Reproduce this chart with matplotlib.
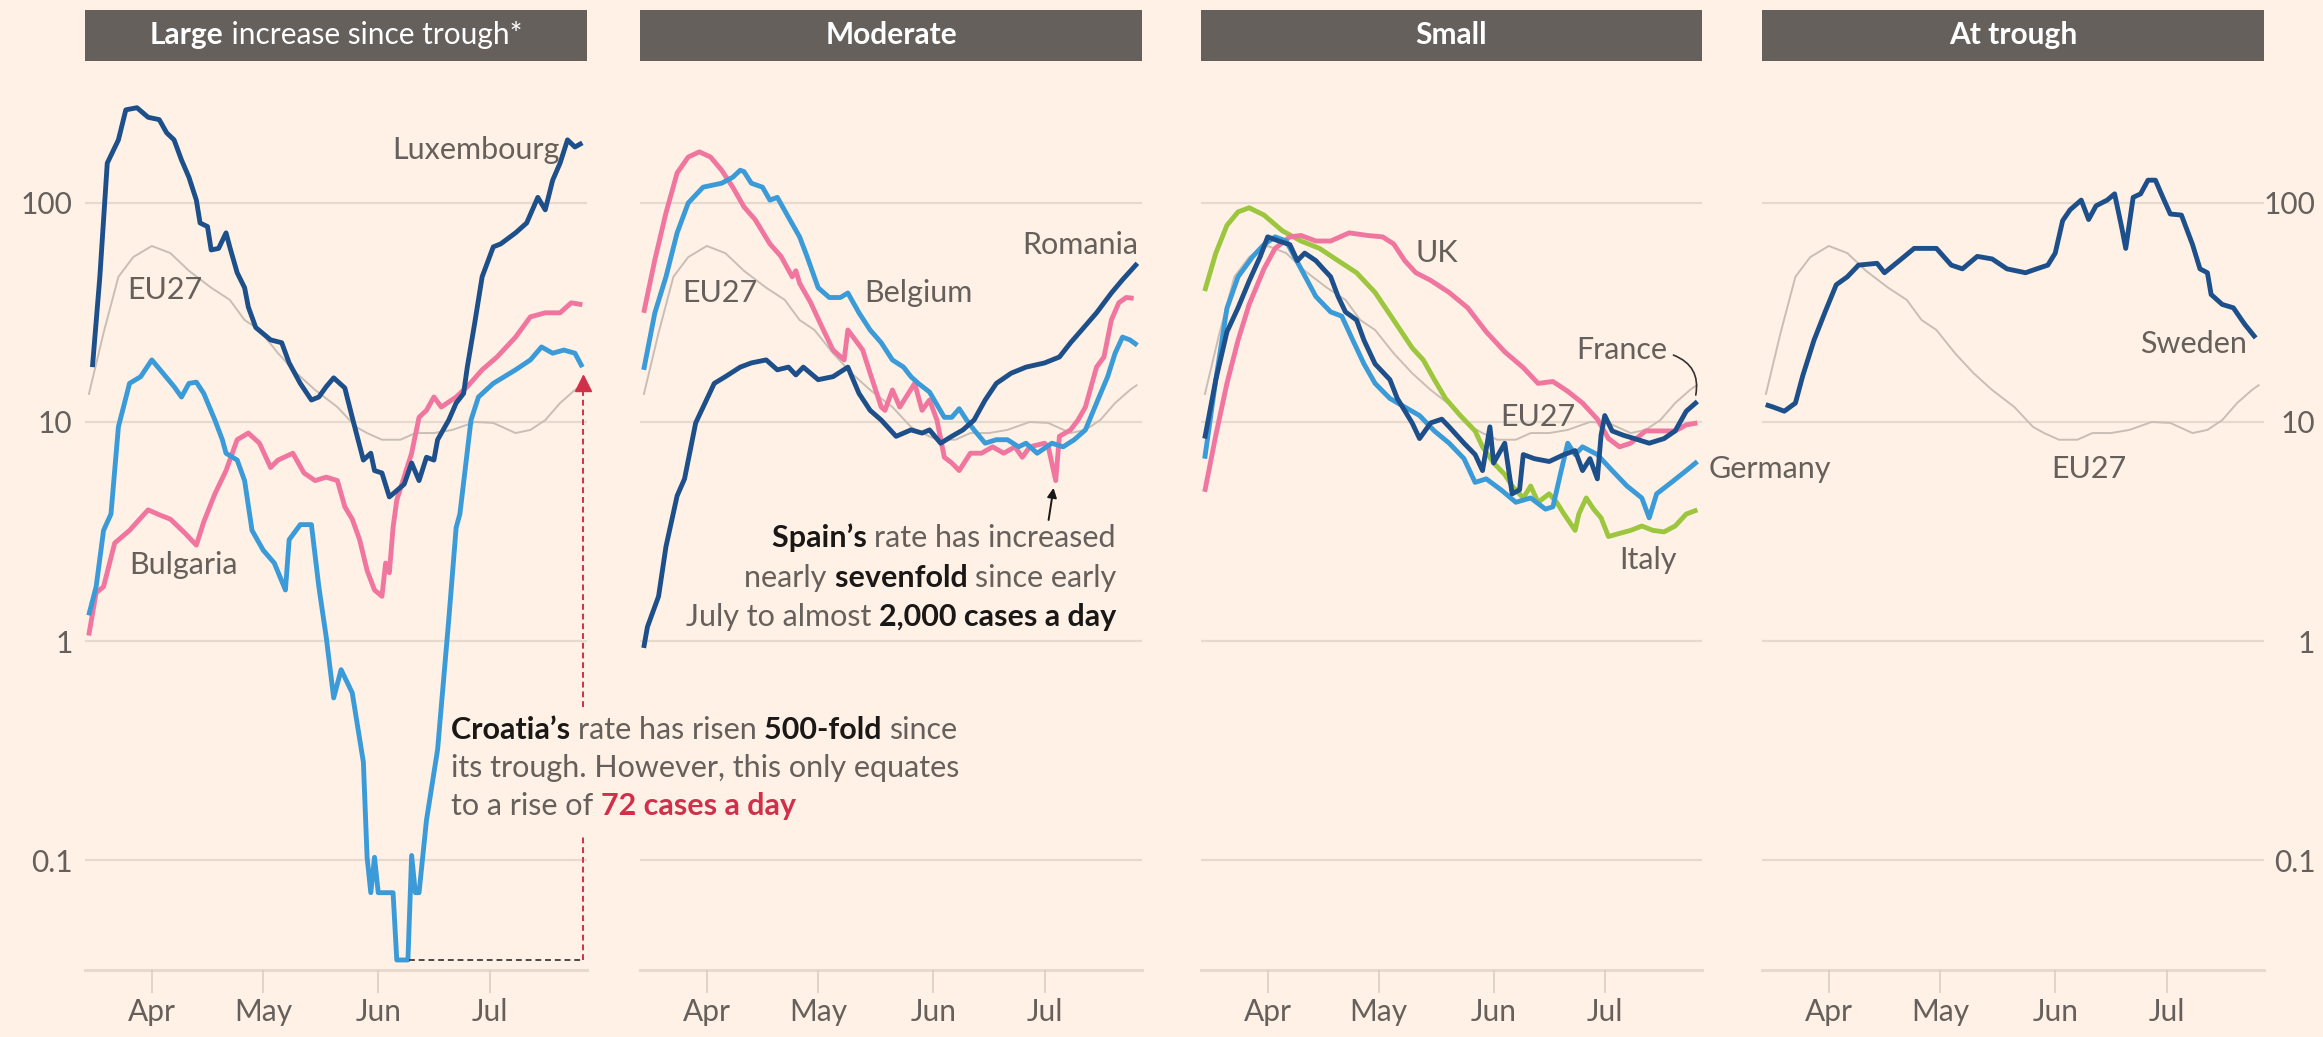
import matplotlib
matplotlib.use('Agg')
import matplotlib.pyplot as plt
import matplotlib.dates as mdates
from matplotlib.patches import Rectangle
from matplotlib.ticker import NullLocator, FixedLocator, FixedFormatter
import pandas as pd

plt.rcParams['font.family'] = ['Lato', 'DejaVu Sans']

# ---------------- data (7-day avg new cases per million, log scale) ----------------
eu27_dates = ['03-15','03-19','03-23','03-27','04-01','04-06','04-11','04-17','04-22','04-26','04-30',
              '05-05','05-10','05-15','05-21','05-26','05-29','06-02','06-07','06-11','06-16','06-21',
              '06-27','07-02','07-08','07-12','07-16','07-20','07-24','07-26']
eu27_vals = [13.3,25.5,46,56.6,63.6,59,49,41,36.1,29.2,26.3,20.6,16.7,14,11.7,9.5,8.9,8.3,8.3,8.9,8.9,
             9.2,10,9.9,8.9,9.2,10.2,12.2,14,14.8]

lux_dates = ['03-16','03-18','03-20','03-23','03-25','03-28','03-31','04-03','04-05','04-07','04-09',
             '04-11','04-13','04-14','04-16','04-17','04-19','04-21','04-22','04-24','04-26','04-27',
             '04-29','05-03','05-06','05-08','05-11','05-14','05-16','05-18','05-20','05-23','05-25',
             '05-28','05-30','05-31','06-02','06-04','06-05','06-08','06-10','06-12','06-14','06-16',
             '06-17','06-20','06-22','06-24','06-25','06-27','06-29','07-02','07-04','07-08','07-11',
             '07-14','07-16','07-18','07-20','07-22','07-24','07-26']
lux_vals = [17.8,46,152,194,266,272,246,240,209,194,157,131,103,81,78,61,62,73,63,48,41,33.5,27,23.7,
            23,18.6,15,12.6,13,14.5,15.9,14.3,10.5,6.7,7.2,6.0,5.85,4.55,4.7,5.2,6.5,5.4,6.9,6.7,8.3,
            10.2,12.2,13.5,17.8,28.3,46,63,65,73,81,106,93,127,152,194,180,188]

cro_dates = ['03-15','03-17','03-19','03-21','03-23','03-26','03-29','04-01','04-04','04-07','04-09',
             '04-11','04-13','04-15','04-18','04-20','04-21','04-24','04-26','04-28','05-01','05-04',
             '05-07','05-08','05-11','05-14','05-16','05-18','05-20','05-22','05-25','05-28','05-29',
             '05-30','05-31','06-01','06-05','06-06','06-09','06-10','06-11','06-12','06-14','06-17',
             '06-20','06-22','06-23','06-26','06-28','07-02','07-08','07-12','07-15','07-18','07-21',
             '07-24','07-26']
cro_vals = [1.31,1.77,3.2,3.8,9.5,15,16.1,19.2,16.7,14.5,13,15,15.2,13.5,10.2,8.3,7.2,6.7,5.4,3.2,2.6,
            2.27,1.71,2.9,3.4,3.4,1.77,1.04,0.55,0.74,0.58,0.28,0.103,0.071,0.103,0.071,0.071,0.035,
            0.035,0.105,0.071,0.071,0.152,0.32,1.25,3.3,3.8,10.2,13,15,17.3,19.2,22,20.6,21.3,20.6,17.8]

bul_dates = ['03-15','03-17','03-19','03-22','03-26','03-31','04-03','04-06','04-10','04-13','04-15',
             '04-18','04-21','04-24','04-27','04-30','05-03','05-05','05-09','05-12','05-15','05-18',
             '05-21','05-23','05-25','05-27','05-29','05-31','06-02','06-03','06-04','06-05','06-06',
             '06-10','06-12','06-14','06-16','06-18','06-22','06-25','06-29','07-03','07-08','07-12',
             '07-16','07-20','07-23','07-26']
bul_vals = [1.06,1.66,1.77,2.8,3.2,3.97,3.77,3.6,3.1,2.74,3.5,4.7,6.0,8.3,8.9,8.0,6.2,6.7,7.2,5.85,5.4,
            5.6,5.4,4.1,3.6,2.9,2.1,1.71,1.6,2.27,2.05,3.3,4.4,7.2,10.5,11.3,13,11.7,13,14.5,17.3,19.8,
            24.4,30.2,31.5,31.5,35,34.3]

bel_dates = ['03-15','03-18','03-21','03-24','03-27','03-31','04-05','04-08','04-10','04-11','04-13',
             '04-16','04-18','04-20','04-23','04-26','04-28','05-01','05-04','05-07','05-09','05-12',
             '05-15','05-18','05-21','05-24','05-26','05-28','05-31','06-04','06-06','06-08','06-10',
             '06-12','06-15','06-18','06-21','06-24','06-26','06-29','07-03','07-06','07-09','07-12',
             '07-15','07-18','07-20','07-22','07-24','07-26']
bel_vals = [17.3,31.5,46,73,100,118,123,131,141,139,123,118,103,106,86,70,57,41,37,37,38.8,31.5,26.3,
            23,19.2,17.8,16.1,15,13.7,10.5,10.5,11.5,10.2,9.2,8.0,8.3,8.3,7.7,8.0,7.2,8.0,7.7,8.3,9.2,
            12.2,16.1,20.6,24.4,23.7,22.4]

esp_dates = ['03-15','03-18','03-21','03-24','03-27','03-30','04-02','04-05','04-08','04-11','04-14',
             '04-18','04-21','04-24','04-25','04-26','04-29','05-02','05-05','05-08','05-09','05-11',
             '05-13','05-15','05-18','05-19','05-21','05-23','05-27','05-29','05-31','06-02','06-04',
             '06-06','06-08','06-11','06-14','06-17','06-20','06-23','06-25','06-27','07-01','07-02',
             '07-04','07-05','07-08','07-10','07-12','07-15','07-17','07-19','07-21','07-23','07-25']
esp_vals = [31.5,55,90,137,162,171,162,141,118,96,84,65,57,46,49,43,35,27.2,21.3,19.2,26.3,23.7,21.3,
            16.7,11.7,11.3,14,11.7,15,11.3,12.6,10.2,6.9,6.5,6.0,7.2,7.2,7.7,7.2,7.7,6.9,7.7,8.0,7.7,
            5.4,8.6,9.2,10.2,11.7,17.8,19.8,29.2,35,37,36.7]

rom_dates = ['03-15','03-16','03-19','03-21','03-24','03-26','03-29','04-03','04-06','04-10','04-13',
             '04-17','04-20','04-23','04-25','04-27','05-01','05-05','05-09','05-12','05-15','05-18',
             '05-22','05-26','05-29','05-31','06-03','06-06','06-09','06-12','06-15','06-18','06-22',
             '06-26','07-01','07-05','07-08','07-11','07-15','07-19','07-22','07-26']
rom_vals = [0.93,1.16,1.6,2.7,4.6,5.5,9.9,15,16.1,17.8,18.6,19.2,17.3,17.8,16.4,17.8,15.6,16.1,17.8,
            13.5,11.3,10.2,8.6,9.2,8.9,9.2,8.0,8.6,9.2,10.2,12.6,15,16.7,17.8,18.6,19.8,23,26.3,31.5,
            38.8,44.6,53]

ita_dates = ['03-15','03-18','03-21','03-24','03-27','03-31','04-05','04-10','04-15','04-20','04-25',
             '04-30','05-05','05-10','05-13','05-16','05-19','05-23','05-27','05-29','06-01','06-04',
             '06-06','06-09','06-11','06-13','06-16','06-18','06-20','06-23','06-24','06-26','06-28',
             '06-30','07-02','07-05','07-08','07-11','07-14','07-17','07-20','07-23','07-26']
ita_vals = [39.6,59,79,91,95,88,74.5,67,62,54.5,48,39,29.2,21.8,19.2,15.6,12.8,10.7,9.1,7.7,6.5,5.76,
            5.1,4.5,5.1,4.3,4.7,4.3,3.8,3.2,3.8,4.5,4.0,3.65,3.0,3.1,3.2,3.35,3.2,3.15,3.35,3.8,3.97]

uk_dates = ['03-15','03-18','03-21','03-24','03-27','03-31','04-03','04-07','04-10','04-14','04-18',
            '04-23','04-28','05-02','05-05','05-08','05-11','05-15','05-20','05-25','05-30','06-04',
            '06-09','06-13','06-17','06-21','06-25','06-29','07-02','07-05','07-08','07-12','07-16',
            '07-20','07-23','07-26']
uk_vals = [4.8,8.7,15,23.6,34.4,50,62,70,71,67,67,73,71,70,65,54.5,48,44.3,39,33.2,25.8,20.9,17.7,15,
           15.3,13.8,12.2,10.3,8.4,7.7,8.0,9.1,9.1,9.1,9.7,9.9]

ger_dates = ['03-15','03-18','03-21','03-24','03-28','03-31','04-03','04-06','04-10','04-14','04-18',
             '04-21','04-24','04-27','04-30','05-04','05-08','05-12','05-16','05-20','05-24','05-27',
             '05-30','06-03','06-07','06-11','06-15','06-17','06-19','06-21','06-23','06-25','06-29',
             '07-03','07-07','07-11','07-13','07-15','07-19','07-23','07-26']
ger_vals = [6.8,15.6,33,46,57,64.5,70,67,50,37.4,31.8,30.4,23.6,18.4,15,12.8,11.7,10.7,9.1,8.0,6.8,5.3,
            5.5,4.9,4.3,4.5,4.0,4.1,5.76,8.0,7.1,7.7,7.1,6.0,5.1,4.5,3.65,4.7,5.3,6.0,6.6]

fra_dates = ['03-15','03-18','03-21','03-24','03-27','03-30','04-01','04-04','04-07','04-09','04-11',
             '04-14','04-16','04-18','04-20','04-22','04-25','04-27','04-30','05-04','05-06','05-10',
             '05-12','05-15','05-18','05-20','05-24','05-27','05-29','05-31','06-01','06-04','06-06',
             '06-08','06-09','06-12','06-16','06-20','06-23','06-25','06-27','06-29','06-30','07-01',
             '07-03','07-06','07-09','07-13','07-17','07-20','07-23','07-26']
fra_vals = [8.4,15.6,25.8,33.2,44,57,70,67,64.5,54.5,59,54.5,50,46,37.4,31.8,29.2,23.6,18.4,15.6,12.8,
            9.9,8.4,9.9,10.3,9.5,8.0,7.1,6.0,9.5,6.5,8.0,4.7,4.9,7.1,6.8,6.6,7.1,7.4,6.0,6.8,5.5,8.7,
            10.7,9.1,8.7,8.4,8.0,8.4,9.1,11.2,12.4]

swe_dates = ['03-15','03-17','03-20','03-23','03-25','03-28','03-31','04-03','04-06','04-09','04-14',
             '04-16','04-20','04-24','04-30','05-04','05-07','05-11','05-15','05-19','05-24','05-27',
             '05-30','06-01','06-03','06-05','06-08','06-10','06-12','06-15','06-17','06-19','06-20',
             '06-22','06-24','06-26','06-28','06-30','07-02','07-05','07-08','07-10','07-12','07-13',
             '07-16','07-19','07-22','07-25']
swe_vals = [12,11.7,11.2,12.2,16.3,23.6,31.8,42.3,46,52,53,48,54.5,62,62,52,50,57,55.5,50,48,50,52,59,
            83,93,103,84,97,103,110,76,62,106,110,127,127,106,89,88,64.5,50,48,38.2,34.4,33.2,28,24.2]

panel_titles = [('Large', ' increase since trough*'), ('Moderate', ''), ('Small', ''), ('At trough', '')]
month_ticks = ['04-01', '05-01', '06-01', '07-01']
month_labels = ['Apr', 'May', 'Jun', 'Jul']
y_ticks = [0.1, 1, 10, 100]
y_labels = ['0.1', '1', '10', '100']

# ---------------- style ----------------
BG = '#FFF1E5'
HEAD = '#66605C'
TXT = '#66605C'
GRID = '#E6D9CE'
TICK = '#D8CBC0'
NAVY = '#1D4F8A'
BLUE = '#3A9BD8'
PINK = '#F0769F'
GREEN = '#9CC63E'
EUC = '#C9BEB5'
BLACK = '#1A1817'
RED = '#D0304A'

W, H = 2323, 1037
fig = plt.figure(figsize=(W / 100, H / 100), dpi=100)
fig.patch.set_facecolor(BG)

def d(s):
    return mdates.date2num(pd.Timestamp('2020-' + s))

def dts(lst):
    return pd.to_datetime(['2020-' + s for s in lst])

panels_px = [(85, 587), (640, 1142), (1201, 1702), (1762, 2264)]
AX_TOP, AX_BOT = 80, 970
YMIN, YMAX = 0.0315, 364
XMIN, XMAX = d('03-14'), d('07-27 06:00')
LW = 3.5
FS = 22

axes = []
for i, (L, R) in enumerate(panels_px):
    ax = fig.add_axes([L / W, 1 - AX_BOT / H, (R - L) / W, (AX_BOT - AX_TOP) / H])
    ax.set_facecolor('none')
    ax.set_yscale('log')
    ax.set_xlim(XMIN, XMAX)
    ax.set_ylim(YMIN, YMAX)
    for sp in ax.spines.values():
        sp.set_visible(False)
    for v in y_ticks:
        ax.axhline(v, color=GRID, lw=1.6, zorder=0)
    ax.axhline(YMIN, color=GRID, lw=2.2, zorder=0, clip_on=False)
    ax.xaxis.set_major_locator(FixedLocator([d(m) for m in month_ticks]))
    ax.xaxis.set_major_formatter(FixedFormatter(month_labels))
    ax.xaxis.set_minor_locator(NullLocator())
    ax.tick_params(axis='x', length=16.5, width=1.1, color=TICK, pad=4,
                   labelsize=FS - 0.5, labelcolor=TXT)
    ax.yaxis.set_major_locator(FixedLocator(y_ticks))
    ax.yaxis.set_major_formatter(FixedFormatter(y_labels))
    ax.yaxis.set_minor_locator(NullLocator())
    if i == 0:
        ax.tick_params(axis='y', length=0, pad=9, labelsize=FS - 0.5, labelcolor=TXT)
    elif i == 3:
        ax.yaxis.tick_right()
        ax.tick_params(axis='y', length=0, pad=37, labelsize=FS - 0.5, labelcolor=TXT,
                       right=False, labelright=True, left=False, labelleft=False)
        for lb in ax.get_yticklabels():
            lb.set_ha('right')
    else:
        ax.tick_params(axis='y', left=False, labelleft=False)
    axes.append(ax)

def line(ax, dates, vals, color, lw=LW, z=3):
    ax.plot(dts(dates), vals, color=color, lw=lw, zorder=z,
            solid_joinstyle='round', solid_capstyle='butt')

ax1, ax2, ax3, ax4 = axes
for ax in axes:
    line(ax, eu27_dates, eu27_vals, EUC, lw=1.4, z=2)

line(ax1, bul_dates, bul_vals, PINK)
line(ax1, cro_dates, cro_vals, BLUE)
line(ax1, lux_dates, lux_vals, NAVY, z=4)

line(ax2, esp_dates, esp_vals, PINK)
line(ax2, bel_dates, bel_vals, BLUE)
line(ax2, rom_dates, rom_vals, NAVY, z=4)

line(ax3, ita_dates, ita_vals, GREEN)
line(ax3, uk_dates, uk_vals, PINK)
line(ax3, ger_dates, ger_vals, BLUE)
line(ax3, fra_dates, fra_vals, NAVY, z=4)

line(ax4, swe_dates, swe_vals, NAVY, z=4)

# ---------------- series labels ----------------
def lab(ax, x, y, s, ha='left'):
    ax.text(d(x), y, s, ha=ha, va='center', fontsize=FS, color=TXT, zorder=6)

lab(ax1, '07-19 22:00', 175, 'Luxembourg', ha='right')
lab(ax1, '03-25 12:00', 40, 'EU27')
lab(ax1, '03-26', 2.22, 'Bulgaria')
lab(ax2, '03-25 12:00', 38.8, 'EU27')
lab(ax2, '05-13 12:00', 38.8, 'Belgium')
lab(ax2, '07-26 06:00', 64.4, 'Romania', ha='right')
lab(ax3, '05-10 20:00', 59, 'UK')
lab(ax3, '06-23 10:00', 21.3, 'France')
lab(ax3, '06-02 16:00', 10.5, 'EU27')
lab(ax3, '07-28 22:00', 6.1, 'Germany')
lab(ax3, '07-04 20:00', 2.34, 'Italy')
lab(ax4, '06-23 20:00', 22.7, 'Sweden')
lab(ax4, '05-30 22:00', 6.1, 'EU27')

ax3.annotate('', xy=(d('07-25 10:00'), 12.9), xytext=(d('07-18 20:00'), 20.4),
             arrowprops=dict(arrowstyle='-', color='#33302E', lw=1.2,
                             connectionstyle='arc3,rad=-0.45'), zorder=6)

# ---------------- Croatia dashed marker ----------------
ax1.plot([d('06-09 08:00'), d('07-26 05:00')], [0.035, 0.035], color='#4D4845', lw=1.4,
         ls=(0, (3, 2)), zorder=5)
ax1.plot([d('07-26 05:00'), d('07-26 05:00')], [0.035, 0.13], color=RED, lw=1.4,
         ls=(0, (3, 2)), zorder=5)
ax1.plot([d('07-26 05:00'), d('07-26 05:00')], [0.5, 14.2], color=RED, lw=1.4,
         ls=(0, (3, 2)), zorder=5)
ax1.plot([d('07-26 05:00')], [15.0], marker='^', ms=12, color=RED, mec=RED, zorder=6,
         clip_on=False)

# Spain arrow
ax2.annotate('', xy=(d('07-03 10:00'), 5.0), xytext=(d('07-02 02:00'), 3.57),
             arrowprops=dict(arrowstyle='-|>', color=BLACK, lw=1.4, mutation_scale=14,
                             shrinkA=0, shrinkB=0), zorder=6)

# ---------------- rich text helper (figure pixel coords, y from top = baseline) ----------------
renderer = fig.canvas.get_renderer()

def rich_line(x, y, pieces, ha='left', size=FS, z=7):
    objs, widths = [], []
    for s, bold, col in pieces:
        t = fig.text(0, 0, s + '|', fontsize=size, fontweight='bold' if bold else 'normal',
                     color=col, ha='left', va='baseline', zorder=z)
        wfull = t.get_window_extent(renderer).width
        t.set_text('|')
        wbar = t.get_window_extent(renderer).width
        t.set_text(s)
        objs.append(t)
        widths.append(wfull - wbar)
    total = sum(widths)
    x0 = x - total if ha == 'right' else (x - total / 2 if ha == 'center' else x)
    for t, w in zip(objs, widths):
        t.set_position((x0 / W, 1 - y / H))
        x0 += w
    return objs

# headers
for (L, R), (bold, rest) in zip(panels_px, panel_titles):
    fig.add_artist(Rectangle((L / W, 1 - 61 / H), (R - L) / W, 51 / H,
                             transform=fig.transFigure, facecolor=HEAD, edgecolor='none', zorder=1))
    pieces = [(bold, True, 'white')]
    if rest:
        pieces.append((rest, False, 'white'))
    rich_line((L + R) / 2, 44, pieces, ha='center', size=FS - 0.5, z=2)

# Croatia annotation
rich_line(451, 739, [('Croatia\u2019s ', True, BLACK), ('rate has risen ', False, TXT),
                     ('500-fold ', True, BLACK), ('since', False, TXT)])
rich_line(451, 777, [('its trough. However, this only equates', False, TXT)])
rich_line(451, 815, [('to a rise of ', False, TXT), ('72 cases a day', True, RED)])

# Spain annotation (right aligned)
rich_line(1116, 547, [('Spain\u2019s ', True, BLACK), ('rate has increased', False, TXT)], ha='right')
rich_line(1116, 587, [('nearly ', False, TXT), ('sevenfold ', True, BLACK), ('since early', False, TXT)],
          ha='right')
rich_line(1116, 626, [('July to almost ', False, TXT), ('2,000 cases a day', True, BLACK)], ha='right')

fig.savefig('out.png', dpi=100, facecolor=BG)
